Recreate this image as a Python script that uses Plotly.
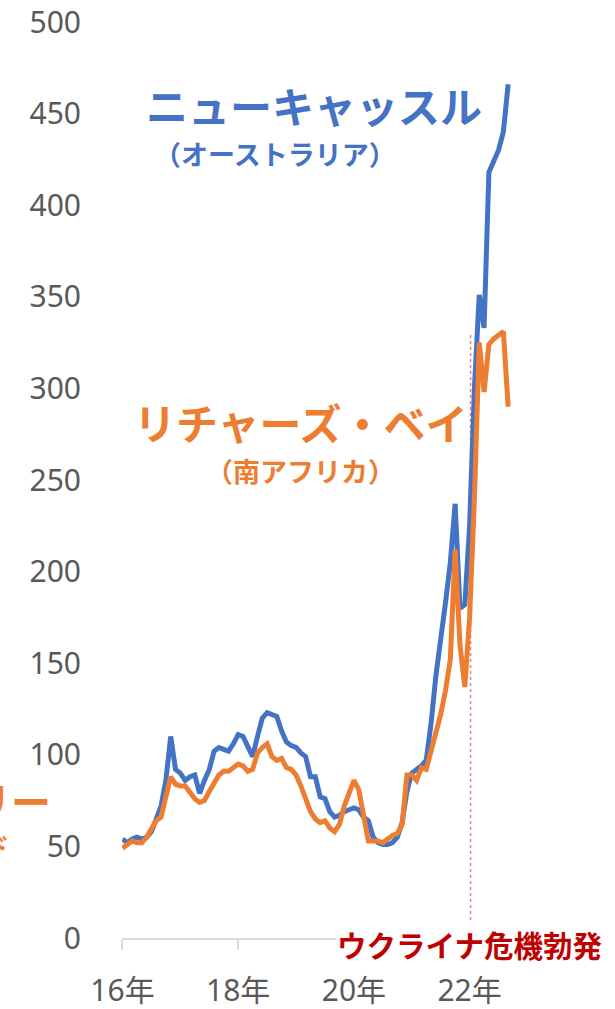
import plotly.graph_objects as go

months = list(range(81))  # Jan 2016 .. Sep 2022, monthly index
tick_vals = [0, 24, 48, 72]
tick_text = ["16年", "18年", "20年", "22年"]

newcastle = [54, 52, 54, 55, 54, 55, 58, 66, 72, 86,
             110, 92, 90, 86, 88, 89, 79, 86, 92, 102,
             104, 103, 102, 106, 111, 110, 104, 99, 110, 120,
             123, 122, 121, 113, 107, 105, 104, 101, 99, 88,
             88, 77, 76, 69, 66, 67, 69, 70, 71, 70,
             66, 64, 55, 52, 51, 51, 52, 55, 63, 80,
             90, 92, 94, 97, 117, 143, 162, 183, 205, 237,
             180, 182, 225, 300, 351, 333, 418, 424, 430, 440,
             466]

richards_bay = [49, 51, 53, 52, 52, 55, 60, 64, 66, 76,
                88, 84, 83, 83, 79, 76, 74, 75, 80, 85,
                89, 91, 91, 93, 95, 94, 91, 92, 101, 104,
                106, 99, 97, 98, 93, 92, 89, 83, 75, 69,
                65, 63, 64, 60, 58, 62, 72, 80, 86, 81,
                67, 53, 53, 53, 52, 54, 56, 57, 62, 89,
                89, 86, 93, 92, 102, 112, 122, 135, 152, 212,
                160, 137, 175, 240, 325, 298, 324, 327, 329, 331,
                290]

crisis_x = 72.2

BLUE = "#4472C4"
ORANGE = "#ED7D31"
DARKRED = "#C00000"
GRAY = "#595959"
JP = "Noto Sans CJK JP"

W, H = 615, 1009
L, R, T, B = 121.5, 101.8, 22, 71

fig = go.Figure()
fig.add_shape(type="line", x0=crisis_x, x1=crisis_x, y0=0, y1=330,
              xref="x", yref="y", layer="below",
              line=dict(color="rgba(230,70,70,0.7)", width=1.5, dash="dot"))
fig.add_trace(go.Scatter(x=months, y=newcastle, mode="lines",
                         line=dict(color=BLUE, width=5), cliponaxis=False,
                         hoverinfo="skip", showlegend=False))
fig.add_trace(go.Scatter(x=months, y=richards_bay, mode="lines",
                         line=dict(color=ORANGE, width=5), cliponaxis=False,
                         hoverinfo="skip", showlegend=False))

ann = [
    dict(text="<b>ニューキャッスル</b>", x=39.7, y=455, size=42, color=BLUE, anchor="center"),
    dict(text="<b>（オーストラリア）</b>", x=31.7, y=428, size=27, color=BLUE, anchor="center"),
    dict(text="<b>リチャーズ・ベイ</b>", x=37.0, y=282, size=42, color=ORANGE, anchor="center"),
    dict(text="<b>（南アフリカ）</b>", x=36.9, y=255, size=27, color=ORANGE, anchor="center"),
]
for a in ann:
    fig.add_annotation(text=a["text"], x=a["x"], y=a["y"], xref="x", yref="y",
                       showarrow=False, xanchor=a["anchor"], yanchor="middle",
                       font=dict(family=JP, size=a["size"], color=a["color"]))

plot_w = W - L - R
plot_h = H - T - B


def px_to_paper(px, py):
    # page pixel coordinates -> paper coordinates
    return (px - L) / plot_w, 1 - (py - T) / plot_h


# cut-off label of a third series at the left edge (cropped in the reference too)
x1, y1 = px_to_paper(52, 800)
fig.add_annotation(text="<b>リー</b>", x=x1, y=y1, xref="paper", yref="paper",
                   showarrow=False, xanchor="right", yanchor="middle",
                   font=dict(family=JP, size=40, color=ORANGE))
x2, y2 = px_to_paper(10, 845)
fig.add_annotation(text="<b>ド</b>", x=x2, y=y2, xref="paper", yref="paper",
                   showarrow=False, xanchor="right", yanchor="middle",
                   font=dict(family=JP, size=25, color=ORANGE))
x3, y3 = px_to_paper(470, 944)
fig.add_annotation(text="<b>ウクライナ危機勃発</b>", x=x3, y=y3, xref="paper", yref="paper",
                   showarrow=False, xanchor="center", yanchor="middle",
                   bgcolor="white", borderpad=0,
                   font=dict(family=JP, size=29.5, color=DARKRED))

fig.update_layout(
    width=W, height=H,
    margin=dict(l=L, r=R, t=T, b=B, pad=0),
    paper_bgcolor="white", plot_bgcolor="white",
    font=dict(family="Noto Sans, " + JP, color=GRAY),
    showlegend=False,
    xaxis=dict(range=[-0.1, 81], tickvals=tick_vals, ticktext=tick_text,
               automargin=False,
               showgrid=False, zeroline=False, showline=True,
               linecolor="#D9D9D9", linewidth=1.5,
               ticks="outside", ticklen=10, tickcolor="#D9D9D9", tickwidth=1.5,
               ticklabelstandoff=15, ticklabeloverflow="allow",
               tickfont=dict(size=30, color=GRAY, family="Noto Sans, " + JP)),
    yaxis=dict(range=[0, 500], tickvals=[0, 50, 100, 150, 200, 250, 300, 350, 400, 450, 500],
               automargin=False,
               showgrid=False, zeroline=False, showline=False, ticks="",
               ticklabelstandoff=40, ticklabeloverflow="allow",
               tickfont=dict(size=30, color=GRAY, family="Noto Sans")),
)

fig.write_html("out.html", config={"displayModeBar": False},
               post_script="document.body.style.margin='0';document.body.style.overflow='hidden';")
